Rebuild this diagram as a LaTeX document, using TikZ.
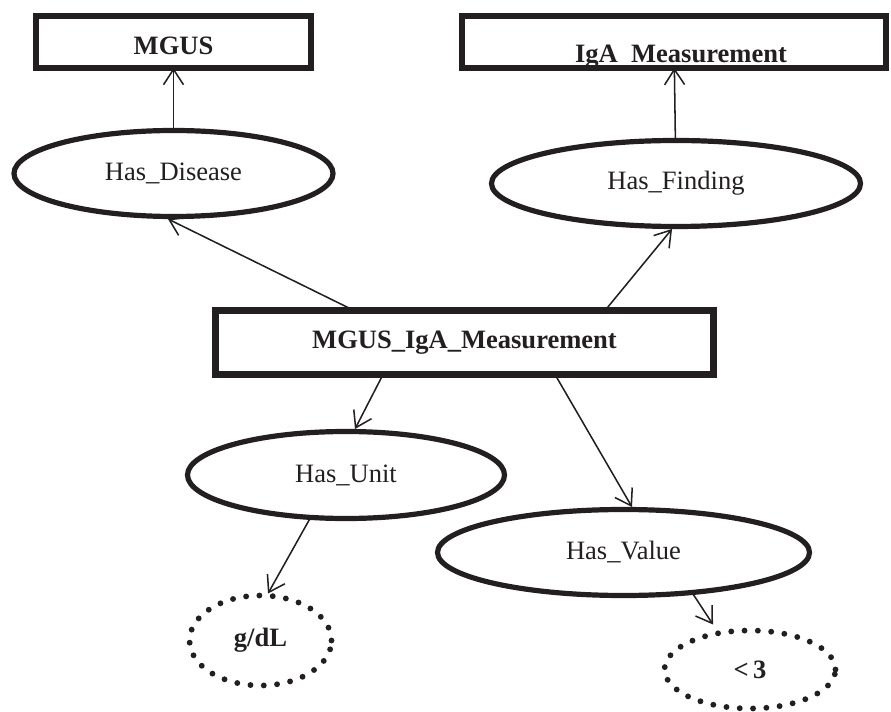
\documentclass[tikz,border=0pt]{standalone}
\usepackage{fontspec}
\setmainfont{Liberation Serif}
\usetikzlibrary{shapes.geometric,arrows.meta}
\definecolor{ink}{RGB}{35,31,32}
\begin{document}
\begin{tikzpicture}[x=0.75pt,y=-0.75pt,
  every node/.style={font=\fontsize{19.9}{24}\selectfont, text=ink, inner sep=0pt, outer sep=0pt},
  classbox/.style={draw=ink, line width=5.2pt, rectangle, font=\fontsize{19.9}{24}\selectfont\bfseries},
  relell/.style={draw=ink, line width=3.9pt, ellipse},
  valell/.style={draw=ink, line width=4.4pt, ellipse, dash pattern=on 0pt off 10pt, line cap=round, font=\fontsize{19.9}{24}\selectfont\bfseries},
  conn/.style={draw=ink, line width=1.15pt, -{Straight Barb[length=11.5pt,width=15pt]}}
]
\useasboundingbox (0,0) rectangle (891,712);
% class boxes
\node[classbox, minimum width=206.25pt, minimum height=39pt, text height=19pt, text depth=0pt] (mgus) at (173.5,42) {MGUS};
\node[classbox, minimum width=318pt, minimum height=39pt] (iga) at (674,42) {};
\node[font=\fontsize{19.9}{24}\selectfont\bfseries, anchor=base] (igat) at (681,63) {IgA\ \ Measurement};
\node[classbox, minimum width=373.5pt, minimum height=48pt] (mi) at (464.5,342.5) {MGUS\_IgA\_Measurement};
% relation ellipses
\node[relell, minimum width=239.25pt, minimum height=64.5pt] (hd) at (173.5,173.5) {Has\_Disease};
\node[relell, minimum width=276.75pt, minimum height=64.5pt] (hf) at (676,183.5) {Has\_Finding};
\node[relell, minimum width=237.75pt, minimum height=65.25pt] (hu) at (346,475) {Has\_Unit};
\node[relell, minimum width=279pt, minimum height=64.5pt] (hv) at (623.5,552.5) {Has\_Value};
% value ellipses
\node[valell, minimum width=106.5pt, minimum height=67.5pt] (gdl) at (260.5,640.5) {g/dL};
\node[valell, minimum width=128.25pt, minimum height=58.5pt] (lt3) at (750,669.5) {<\,3};
% connectors
\draw[conn] (hd) -- (mgus);
\draw[conn] (hf) -- (iga);
\draw[conn] ([shift={(-110.5,0)}]mi.north) -- ([shift={(-5.5,2.5)}]hd.south);
\draw[conn] ([shift={(140.5,0)}]mi.north) -- ([shift={(-4,2.5)}]hf.south);
\draw[conn] ([shift={(-81.5,0)}]mi.south) -- ([shift={(9,-2.5)}]hu.north);
\draw[conn] ([shift={(90.5,0)}]mi.south) -- ([shift={(8.5,-2.5)}]hv.north);
\draw[conn] ([shift={(-36,0)}]hu.south) -- ([shift={(7.5,-2)}]gdl.north);
\draw[conn] ([shift={(68.5,-3)}]hv.south) -- ([shift={(-37,-6)}]lt3.north);
\end{tikzpicture}
\end{document}
